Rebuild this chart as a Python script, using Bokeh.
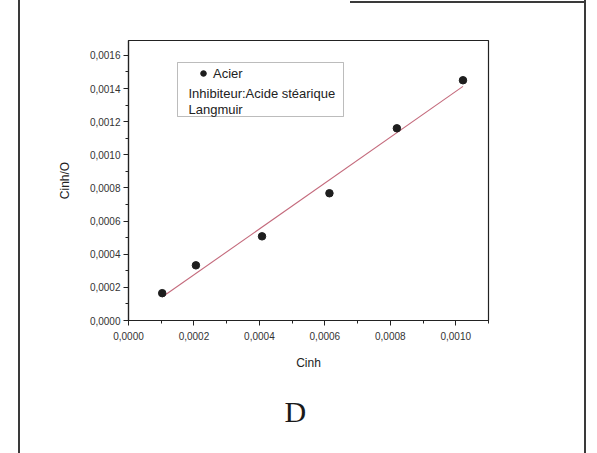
import numpy as np
from bokeh.plotting import figure
from bokeh.models import (Range1d, FixedTicker, CustomJSTickFormatter, Label,
                          BoxAnnotation, Legend, LegendItem, Title, InlineStyleSheet)
from bokeh.embed import file_html
from bokeh.resources import INLINE

# ---- data ----
cinh = [0.000103, 0.000206, 0.000408, 0.000614, 0.000820, 0.001022]
cinh_over_theta = [0.000165, 0.000333, 0.000508, 0.000768, 0.001160, 0.001450]
x_ticks = [0.0, 0.0002, 0.0004, 0.0006, 0.0008, 0.0010]
x_minor = [0.0001, 0.0003, 0.0005, 0.0007, 0.0009, 0.0011]
y_ticks = [0.0, 0.0002, 0.0004, 0.0006, 0.0008, 0.0010, 0.0012, 0.0014, 0.0016]
y_minor = [0.0001, 0.0003, 0.0005, 0.0007, 0.0009, 0.0011, 0.0013, 0.0015]
series_label = "Acier"
legend_lines = ["Inhibiteur:Acide stéarique", "Langmuir"]
x_title = "Cinh"
y_title = "Cinh/O"
panel_letter = "D"

FONT = "Liberation Sans"

p = figure(width=568, height=453,
           x_range=Range1d(0, 0.0011), y_range=Range1d(0, 0.00169),
           output_backend="svg", toolbar_location=None,
           min_border_left=108, min_border_right=100,
           min_border_top=40, min_border_bottom=133,
           background_fill_color="white", border_fill_color="white")
p.styles = {"margin-left": "18px", "border-left": "2px solid #3a3a3a",
            "border-right": "2px solid #3a3a3a"}
p.stylesheets = [InlineStyleSheet(css=(
    ":host { position: relative; }"
    ":host::after { content: ''; position: absolute; top: 1px; left: 330px;"
    " right: 0; border-top: 2px solid #3a3a3a; pointer-events: none; }"))]

p.grid.visible = False
p.outline_line_color = "#222222"
p.outline_line_width = 1.2

fmt = CustomJSTickFormatter(code="return tick.toFixed(4).replace('.', ',');")
p.xaxis.ticker = FixedTicker(ticks=x_ticks, minor_ticks=x_minor)
p.yaxis.ticker = FixedTicker(ticks=y_ticks, minor_ticks=y_minor)
for ax in (p.xaxis, p.yaxis):
    ax.formatter = fmt
    ax.major_label_text_font = FONT
    ax.major_label_text_font_size = "10px"
    ax.major_label_text_color = "#333333"
    ax.axis_label_text_font = FONT
    ax.axis_label_text_font_size = "12px"
    ax.axis_label_text_font_style = "normal"
    ax.axis_label_text_color = "#222222"
    ax.axis_line_color = "#222222"
    ax.axis_line_width = 1.2
    ax.major_tick_line_color = "#222222"
    ax.minor_tick_line_color = "#222222"
    ax.major_tick_out = 5
    ax.major_tick_in = 0
    ax.minor_tick_out = 3
    ax.minor_tick_in = 0
p.xaxis.axis_label = x_title
p.yaxis.axis_label = y_title
p.xaxis.major_label_standoff = 6
p.xaxis.axis_label_standoff = 13
p.yaxis.major_label_standoff = 3
p.yaxis.axis_label_standoff = 15

# linear (Langmuir) fit
slope, intercept = np.polyfit(cinh, cinh_over_theta, 1)
fx = [min(cinh), max(cinh)]
fy = [slope * v + intercept for v in fx]
p.line(fx, fy, line_color="#c46a7c", line_width=1.1)

pts = p.scatter(cinh, cinh_over_theta, size=7.5, marker="circle",
                fill_color="#1e1e1e", line_color="#1e1e1e")

# legend box
box = BoxAnnotation(left=49, right=215, bottom=204, top=258,
                    left_units="screen", right_units="screen",
                    bottom_units="screen", top_units="screen",
                    fill_alpha=0, line_color="#222222", line_width=1)
p.add_layout(box)

leg = Legend(items=[LegendItem(label=series_label, renderers=[pts])],
             location=(63, 232), padding=5, glyph_width=14, glyph_height=20,
             label_standoff=3, border_line_alpha=0, background_fill_alpha=0,
             label_text_font=FONT, label_text_font_size="13px",
             label_text_color="#222222")
p.add_layout(leg)

for i, t in enumerate(legend_lines):
    p.add_layout(Label(x=60, y=227 - 16 * i, x_units="screen", y_units="screen",
                       text=t, text_baseline="middle", text_font=FONT,
                       text_font_size="13px", text_color="#222222"))

p.add_layout(Title(text=panel_letter, align="left", offset=156, standoff=40,
                   text_font="Liberation Serif", text_font_size="30px",
                   text_font_style="normal", text_color="#1a1a1a"), "below")

open("out.html", "w").write(file_html(p, INLINE))
